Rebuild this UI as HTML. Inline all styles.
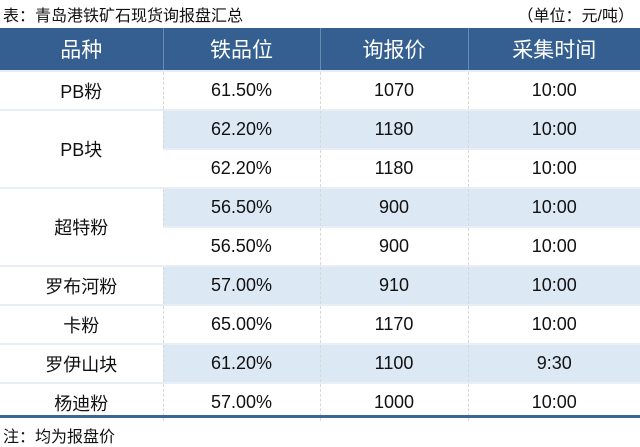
<!DOCTYPE html><html><head><meta charset="utf-8"><style>
body{margin:0;width:640px;height:447px;background:#fff;font-family:"Liberation Sans","Noto Sans CJK SC",sans-serif;position:relative;overflow:hidden;color:#111}
.t{position:absolute;top:2px;font-size:16px;}
table{position:absolute;left:0;top:28px;width:640px;border-collapse:collapse;table-layout:fixed}
td,th{text-align:center;padding:0;font-size:18px;border-left:1px dashed #d8d8d8;border-top:2px solid #e8eef5}
th{background:#355f90;color:#fff;font-weight:normal;font-size:21px;height:42px;border-left:1px solid #6a8bb3;border-top:none}
td{height:37px}
tr.b td{background:#dce9f5}
tr.b td.w,td.w{background:#fff}
td:first-child,th:first-child{border-left:none}
.line{position:absolute;left:0;top:415px;width:640px;height:3px;background:#3d6597}
</style></head><body>
<div class="t" style="left:3px">表：青岛港铁矿石现货询报盘汇总</div>
<div class="t" style="right:6px">（单位：元/吨）</div>
<table>
<colgroup><col style="width:163px"><col style="width:157px"><col style="width:148px"><col style="width:172px"></colgroup>
<tr><th>品种</th><th>铁品位</th><th>询报价</th><th>采集时间</th></tr>
<tr><td>PB粉</td><td>61.50%</td><td>1070</td><td>10:00</td></tr>
<tr class="b"><td class="w" rowspan="2">PB块</td><td>62.20%</td><td>1180</td><td>10:00</td></tr>
<tr><td>62.20%</td><td>1180</td><td>10:00</td></tr>
<tr class="b"><td class="w" rowspan="2">超特粉</td><td>56.50%</td><td>900</td><td>10:00</td></tr>
<tr><td>56.50%</td><td>900</td><td>10:00</td></tr>
<tr class="b"><td class="w">罗布河粉</td><td>57.00%</td><td>910</td><td>10:00</td></tr>
<tr><td>卡粉</td><td>65.00%</td><td>1170</td><td>10:00</td></tr>
<tr class="b"><td class="w">罗伊山块</td><td>61.20%</td><td>1100</td><td>9:30</td></tr>
<tr><td>杨迪粉</td><td>57.00%</td><td>1000</td><td>10:00</td></tr>
</table>
<div class="line"></div>
<div class="t" style="left:3px;top:423px">注：均为报盘价</div>
</body></html>
